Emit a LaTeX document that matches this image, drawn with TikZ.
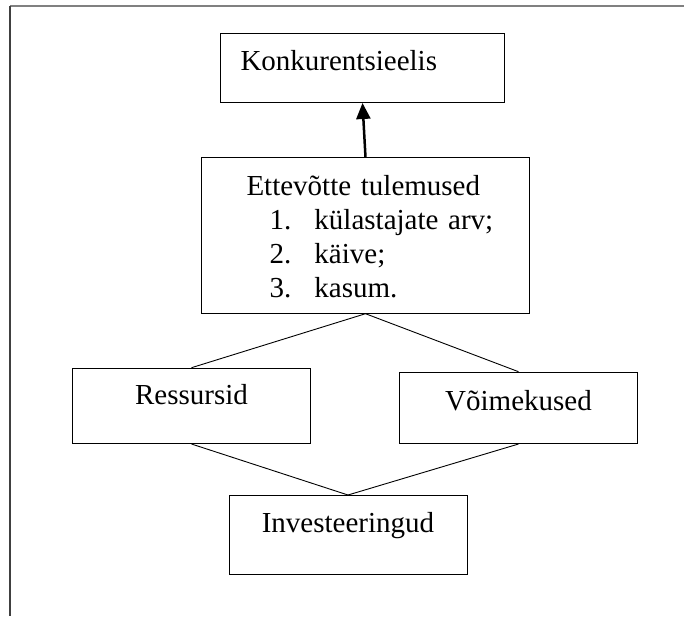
\documentclass[tikz,border=0pt]{standalone}
\usepackage{fontspec}
\setmainfont{Liberation Serif}
\usetikzlibrary{arrows, arrows.meta}

\begin{document}
\begin{tikzpicture}[x=1pt, y=-1pt,
  box/.style={draw, line width=1pt, inner sep=0pt, anchor=north west,
    font=\fontsize{29}{34}\selectfont},
  link/.style={line width=0.9pt},
  frameline/.style={line width=2pt}]
\useasboundingbox (0,0) rectangle (684,616);

% frame
\draw[frameline, gray] (684,6)--(10,6);
\draw[frameline, black!75] (10,6)--(10,616);

%%%%%%%%%%%%%%%%%%%%%%%%%%%%%%%%%%%%%%%%
\node[box, text width=284pt, align=left, text height=37pt, text depth=32pt]
  (konk) at (220,33) {\hspace*{20pt}Konkurentsieelis};

\node[box, text width=328pt, align=left, text height=37.7pt, text depth=117.7pt]
  (ette) at (201,157.3) {\hspace*{45pt}Ettevõtte tulemused\\
  \hspace*{68pt}\makebox[45pt][l]{1.}külastajate arv;\\
  \hspace*{68pt}\makebox[45pt][l]{2.}käive;\\
  \hspace*{68pt}\makebox[45pt][l]{3.}kasum.};

%%%%%%%%%%%%%%%%%%%%%%%%%%%%%%%%%%%%%%%%
\node[box, text width=238pt, align=center, text height=36.6pt, text depth=38.7pt]
  (ress) at (72,367.7) {Ressursid};
\node[box, text width=238pt, align=center, text height=38.3pt, text depth=33pt]
  (voim) at (399,371.7) {Võimekused};
\node[box, text width=238pt, align=center, text height=36.7pt, text depth=42.3pt]
  (inv) at (228.5,495) {Investeeringud};

% connectors
\draw[-{Triangle[length=16pt,width=14pt]}, line width=2.5pt] (ette.north)--(konk.south);
\draw[link] (ette.south)--(ress.north);
\draw[link] (ette.south)--(voim.north);
\draw[link] (ress.south)--(inv.north);
\draw[link] (voim.south)--(inv.north);

\end{tikzpicture}
\end{document}
